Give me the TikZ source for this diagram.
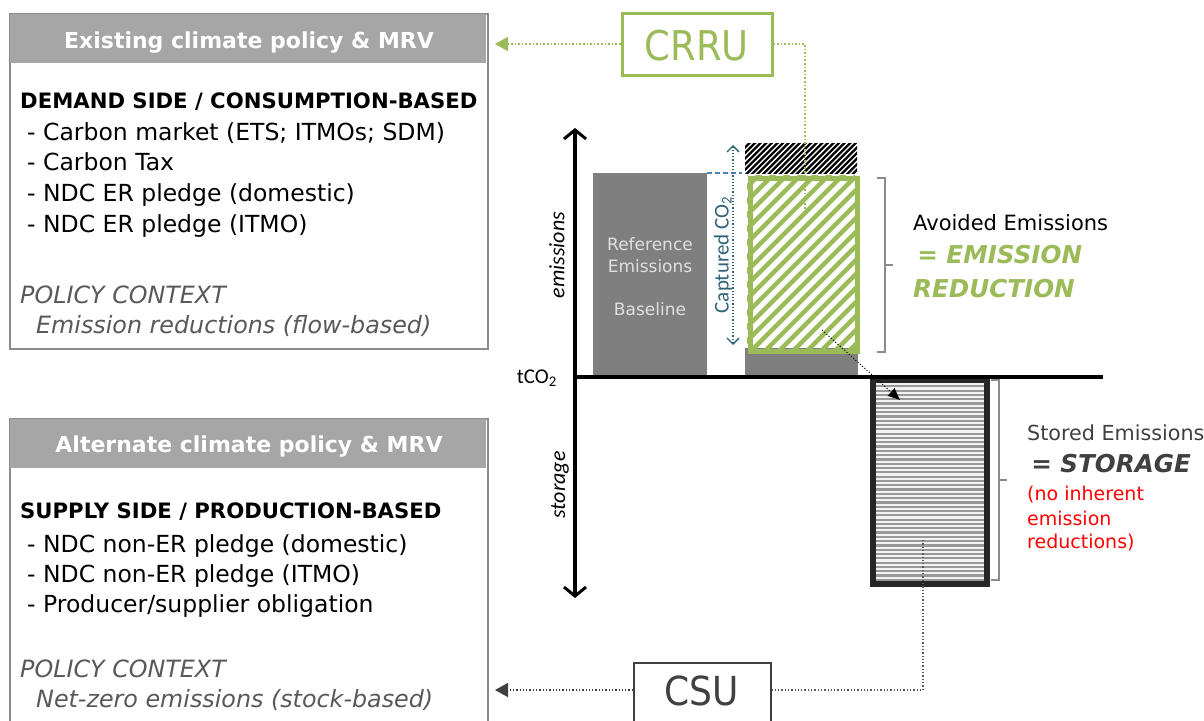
\documentclass[tikz,border=0pt]{standalone}
\usepackage{fontspec}
\setmainfont{DejaVu Sans}
\newfontfamily\condfont{DejaVu Sans Condensed}
\newfontfamily\calfont{Carlito}
\usetikzlibrary{arrows.meta}
\definecolor{cgreen}{HTML}{9BBB59}
\definecolor{hdrgray}{HTML}{A6A6A6}
\definecolor{boxgray}{HTML}{8C8C8C}
\definecolor{bargray}{HTML}{7F7F7F}
\definecolor{ctxgray}{HTML}{595959}
\definecolor{darkbox}{HTML}{262626}
\definecolor{cteal}{HTML}{2E6378}
\definecolor{cblue}{HTML}{4F81BD}
\definecolor{csugray}{HTML}{404040}
\begin{document}
\begin{tikzpicture}[x=1pt,y=-1pt,
  txt/.style={anchor=base west,inner sep=0pt,font=\fontsize{23.5}{26}\selectfont},
  hd/.style={txt,font=\fontsize{21.2}{26}\selectfont\bfseries},
  ctx/.style={txt,text=ctxgray,font=\fontsize{23.8}{26}\selectfont\itshape},
  hdr/.style={anchor=base,inner sep=0pt,text=white,font=\fontsize{22}{26}\selectfont\bfseries},
  policybox/.style={draw=boxgray,line width=2pt,anchor=north west,minimum width=478pt,inner sep=0pt},
  bracketline/.style={draw=boxgray,line width=1.4pt},
  axis/.style={line width=3.5pt,black},
  reftxt/.style={anchor=base,inner sep=0pt,text=white!88!black,font=\fontsize{17}{19}\selectfont},
  bigital/.style={txt,font=\fontsize{24.6}{28}\selectfont\bfseries\itshape}
]
\useasboundingbox (0,0) rectangle (1204,720);
\clip (0,0) rectangle (1204,720);
\fill[white] (0,0) rectangle (1204,720);

% ---------- top policy box ----------
\node[policybox,minimum height=335pt] (exist) at (9,13) {};
\fill[hdrgray] (10,14) rectangle (486,63);
\node[hdr] (existh) at (249,48) {Existing climate policy \& MRV};
\node[hd]  (t1) at (20,108) {DEMAND SIDE / CONSUMPTION-BASED};
\node[txt] (t2) at (27,140) {- Carbon market (ETS; ITMOs; SDM)};
\node[txt] (t3) at (27,170) {- Carbon Tax};
\node[txt] (t4) at (27,201) {- NDC ER pledge (domestic)};
\node[txt] (t5) at (27,232) {- NDC ER pledge (ITMO)};
\node[ctx] (t6) at (20,303) {POLICY CONTEXT};
\node[ctx] (t7) at (36,333) {Emission reductions (flow-based)};

% ---------- bottom policy box ----------
\node[policybox,minimum height=330pt] (alt) at (9,418) {};
\fill[hdrgray] (10,419) rectangle (486,468);
\node[hdr] (alth) at (249,452) {Alternate climate policy \& MRV};
\node[hd]  (b1) at (20,518) {SUPPLY SIDE / PRODUCTION-BASED};
\node[txt] (b2) at (27,552) {- NDC non-ER pledge (domestic)};
\node[txt] (b3) at (27,582) {- NDC non-ER pledge (ITMO)};
\node[txt] (b4) at (27,612) {- Producer/supplier obligation};
\node[ctx] (b5) at (20,677) {POLICY CONTEXT};
\node[ctx] (b6) at (36,707) {Net-zero emissions (stock-based)};

% ---------- CRRU ----------
\node[draw=cgreen,line width=3pt,minimum width=150pt,minimum height=62pt,inner sep=0pt] (crru) at (697,44) {};
\node[anchor=base,inner sep=0pt,text=cgreen,font=\condfont\fontsize{41}{44}\selectfont] (crrut) at (697,60) {CRRU};
\coordinate (crruend) at (805,212);
\draw[cgreen,line width=1.6pt,dotted,-{Triangle[length=13pt,width=14pt]},shorten >=6pt]
  (crru.west) -- (crru.west -| exist.east);

% ---------- bars ----------
\fill[bargray] (593,173) rectangle (707,377);
\node[reftxt] (ref1) at (650,250) {Reference};
\node[reftxt] (ref2) at (650,272) {Emissions};
\node[reftxt] (ref3) at (650,315) {Baseline};

% gray bar under green box
\fill[bargray] (745,348) rectangle (858,377);

% black hatch
\begin{scope}
  \clip (745,143) rectangle (857,173);
  \foreach \i in {0,...,35} {\draw[black,line width=2.3pt] (690+\i*5.6,180) -- ++(45,-45);}
\end{scope}

% green hatched box
\begin{scope}
  \clip (747,175) rectangle (855,349);
  \foreach \i in {0,...,26} {\draw[cgreen,line width=4.5pt] (560+\i*14,360) -- ++(220,-220);}
\end{scope}
\node[draw=cgreen,line width=5pt,minimum width=107pt,minimum height=173pt,inner sep=0pt,anchor=north west] (cap) at (747.5,175.5) {};

% storage box
\begin{scope}
  \clip (870,380) rectangle (984,581);
  \fill[white!95!black] (870,380) rectangle (984,581);
  \foreach \i in {0,...,46} {\draw[gray!80,line width=2.2pt] (860,382+\i*4.3) -- (995,382+\i*4.3);}
\end{scope}
\node[draw=darkbox,line width=6pt,minimum width=114pt,minimum height=204pt,inner sep=0pt,anchor=north west] (stor) at (870,377) {};

% dashed blue and captured arrow
\coordinate (dashend) at (742,173);
\draw[cblue,line width=1.5pt,dash pattern=on 5pt off 3pt] (707,173) -- (dashend);
\coordinate (captop) at (733,145);
\coordinate (capbot) at (733,345);
\draw[cteal,line width=1.2pt,dotted,{Straight Barb[length=6pt,width=12pt,line width=1.3pt]}-{Straight Barb[length=6pt,width=12pt,line width=1.3pt]}] (captop) -- (capbot);
\node[rotate=90,inner sep=0pt,text=cteal,font=\calfont\fontsize{21}{24}\selectfont] (captxt) at (723,255) {Captured CO\textsubscript{2}};

% CRRU connector to green box
\draw[cgreen,line width=1.6pt,dotted] (crru.east) -| (crruend);

% axes
\coordinate (ytop) at (575,128);
\coordinate (ybot) at (575,598);
\coordinate (xright) at (1103,377);
\coordinate (origin) at (575,377);
\draw[axis,{Straight Barb[length=9pt,width=22pt,line width=3pt]}-{Straight Barb[length=9pt,width=22pt,line width=3pt]}] (ybot) -- (ytop);
\draw[axis] (573,377) -- (xright);
\node[rotate=90,inner sep=0pt,font=\calfont\itshape\fontsize{22}{24}\selectfont] (emtxt) at (557,255) {emissions};
\node[rotate=90,inner sep=0pt,font=\calfont\itshape\fontsize{22}{24}\selectfont] (sttxt) at (560,485) {storage};
\node[anchor=base east,inner sep=0pt,font=\calfont\fontsize{21}{24}\selectfont] (tco) at (557,383) {tCO\textsubscript{2}};

% dotted black arrow from capture to storage
\coordinate (flowstart) at (822,330);
\coordinate (flowend) at (900,400);
\draw[black,line width=1pt,dotted,-{Triangle[length=12pt,width=10pt]}] (flowstart) -- (flowend);

% brackets
\draw[bracketline] (877,178) -- (885,178) -- (885,352) -- (877,352);
\draw[bracketline] (885,265) -- (893,265);
\draw[bracketline] (991,380) -- (999,380) -- (999,580) -- (991,580);
\draw[bracketline] (999,480) -- (1007,480);

% right texts
\node[txt,font=\fontsize{21}{24}\selectfont] (av1) at (913,230) {Avoided Emissions};
\node[bigital,text=cgreen] (av2) at (913,263) {\,= EMISSION};
\node[bigital,text=cgreen] (av3) at (913,297) {REDUCTION};
\node[txt,text=csugray,font=\fontsize{20.7}{24}\selectfont] (st1) at (1027,440) {Stored Emissions};
\node[bigital,text=csugray] (st2) at (1027,472) {\,= STORAGE};
\node[txt,text=red,font=\fontsize{19}{22}\selectfont] (st3) at (1027,500) {(no inherent};
\node[txt,text=red,font=\fontsize{19}{22}\selectfont] (st4) at (1027,525) {emission};
\node[txt,text=red,font=\fontsize{19}{22}\selectfont] (st5) at (1027,548) {reductions)};

% CSU
\node[draw=csugray,line width=2pt,minimum width=137pt,minimum height=70pt,inner sep=0pt,anchor=north west] (csu) at (633,662) {};
\node[anchor=base,inner sep=0pt,text=csugray,font=\condfont\fontsize{40}{44}\selectfont] (csut) at (702,705) {CSU};
\coordinate (storstart) at (923,540);
\coordinate (csuy) at (923,690);
\draw[ctxgray,line width=1.3pt,dotted] (storstart) -- (csuy) -- (csuy -| csu.east);
\draw[csugray,line width=1.3pt,dotted,-{Triangle[length=13pt,width=14pt]},shorten >=6pt]
  (csuy -| csu.west) -- (csuy -| alt.east);
\end{tikzpicture}
\end{document}
